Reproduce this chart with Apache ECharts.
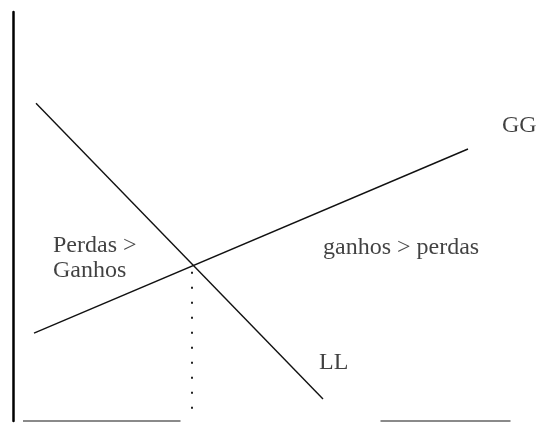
<!DOCTYPE html>
<html>
<head>
<meta charset="utf-8">
<script src="https://cdn.jsdelivr.net/npm/echarts@6/dist/echarts.min.js"></script>
<style>html,body{margin:0;padding:0;background:#fff}#c{width:540px;height:423px}</style>
</head>
<body>
<div id="c"></div>
<script>
// Conceptual diagram, abstract units 0..100 on both axes
const ggLine = [[4.2, 21.5], [91, 66.5]];
const llLine = [[4.6, 77.7], [62, 5.4]];
const dropLine = [[35.8, 36.5], [35.8, 0.6]];
const baseLineLeft = [[2, 0], [33.5, 0]];
const baseLineRight = [[73.5, 0], [99.5, 0]];
const labelTexts = ['GG', 'LL', 'Perdas >', 'Ganhos', 'ganhos > perdas'];
const labelAnchors = [[97.8, 72.1], [61.2, 14.2], [8, 42.8], [8, 36.7], [62, 42.4]];

const chart = echarts.init(document.getElementById('c'), null, {renderer: 'canvas'});
const font = 'Liberation Serif, Times New Roman, serif';
const lineSeries = (data, style) => ({
  type: 'line', data: data, symbol: 'none', silent: true,
  lineStyle: style, animation: false
});
chart.setOption({
  animation: false,
  backgroundColor: '#fff',
  grid: {left: 13, top: 12, width: 500, height: 409},
  xAxis: {type: 'value', min: 0, max: 100, axisLine: {show: false}, axisTick: {show: false},
          axisLabel: {show: false}, splitLine: {show: false}},
  yAxis: {type: 'value', min: 0, max: 100,
          axisLine: {show: true, lineStyle: {color: '#000', width: 2.5}},
          axisTick: {show: false}, axisLabel: {show: false}, splitLine: {show: false}},
  series: [
    lineSeries(ggLine, {color: '#111', width: 1.4}),
    lineSeries(llLine, {color: '#111', width: 1.4}),
    lineSeries(dropLine, {color: '#222', width: 2, type: [2, 13]}),
    lineSeries(baseLineLeft, {color: '#8a8a8a', width: 2}),
    lineSeries(baseLineRight, {color: '#8a8a8a', width: 2}),
    {
      type: 'scatter', symbolSize: 0, silent: true, animation: false,
      data: labelTexts.map((t, i) => ({name: t, value: labelAnchors[i]})),
      label: {show: true, position: [0, 0], align: 'left', verticalAlign: 'middle',
              formatter: p => p.name, color: '#111', fontFamily: font, fontSize: 24}
    }
  ]
});
</script>
</body>
</html>
